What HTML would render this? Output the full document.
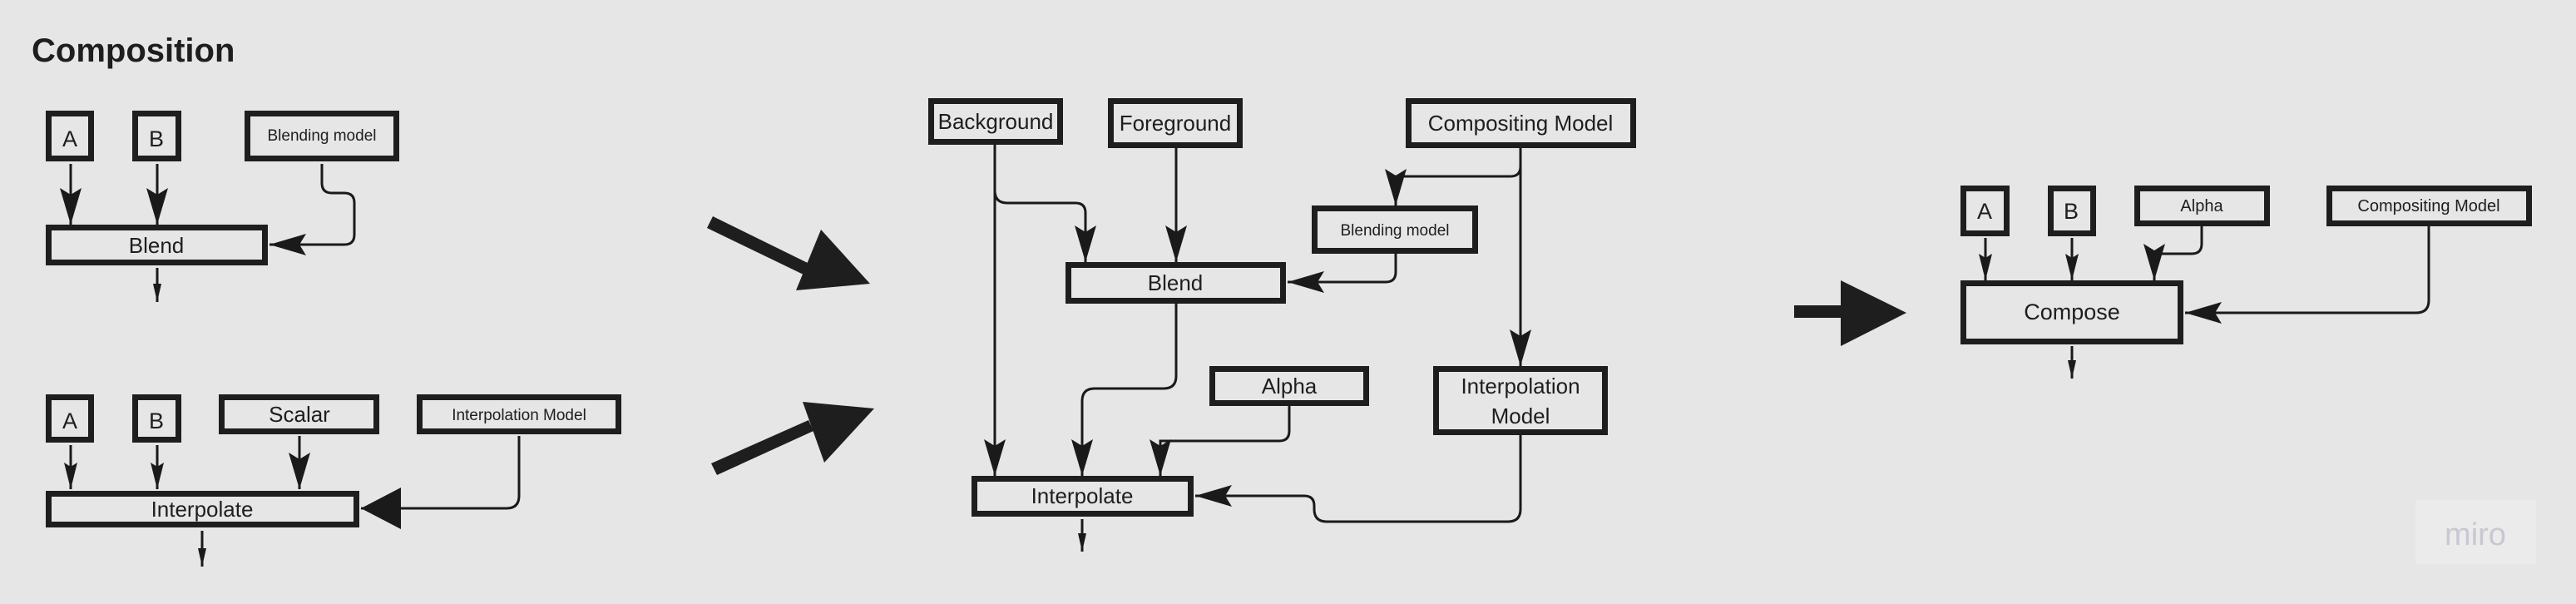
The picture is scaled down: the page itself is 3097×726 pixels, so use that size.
<!DOCTYPE html>
<html><head><meta charset="utf-8"><style>
html,body{margin:0;padding:0;background:#e6e6e6;}
svg{display:block;}
text{font-family:"Liberation Sans",sans-serif;fill:#1e1e1e;}
</style></head><body>
<svg width="3097" height="726" viewBox="0 0 3097 726" xmlns="http://www.w3.org/2000/svg">
<defs>
<marker id="m" markerUnits="userSpaceOnUse" markerWidth="46" markerHeight="26" refX="44" refY="13" orient="auto"><path d="M0 0 L44 13 L0 26 L8 13 Z" fill="#1a1a1a"/></marker>
<marker id="t" markerUnits="userSpaceOnUse" markerWidth="34" markerHeight="16" refX="32" refY="8" orient="auto"><path d="M0 0 L32 8 L0 16 L5 8 Z" fill="#1a1a1a"/></marker>
<marker id="s" markerUnits="userSpaceOnUse" markerWidth="24" markerHeight="12" refX="22" refY="6" orient="auto"><path d="M0 1 L22 6 L0 11 Z" fill="#1a1a1a"/></marker>
<marker id="L" markerUnits="userSpaceOnUse" markerWidth="50" markerHeight="50" refX="48" refY="25" orient="auto"><path d="M0 0 L48 25 L0 50 Z" fill="#1a1a1a"/></marker>
</defs>
<rect width="3097" height="726" fill="#e6e6e6"/>
<text x="38" y="74" font-size="40" font-weight="bold">Composition</text>

<g fill="none" stroke="#1e1e1e" stroke-width="7">
<rect x="58.5" y="136.5" width="51" height="54"/>
<rect x="162.5" y="136.5" width="52" height="54"/>
<rect x="297.5" y="136.5" width="179" height="54"/>
<rect x="58.5" y="273.5" width="260" height="42"/>
<rect x="58.5" y="477.5" width="51" height="51"/>
<rect x="162.5" y="477.5" width="52" height="51"/>
<rect x="266.5" y="477.5" width="186" height="41"/>
<rect x="504.5" y="477.5" width="239" height="41"/>
<rect x="58.5" y="593.5" width="370" height="37"/>
<rect x="1119.5" y="121.5" width="155" height="49"/>
<rect x="1335.5" y="121.5" width="155" height="53"/>
<rect x="1693.5" y="121.5" width="270" height="53"/>
<rect x="1580.5" y="250.5" width="193" height="51"/>
<rect x="1284.5" y="318.5" width="258" height="43"/>
<rect x="1457.5" y="443.5" width="185" height="41"/>
<rect x="1726.5" y="443.5" width="203" height="76"/>
<rect x="1171.5" y="575.5" width="260" height="42"/>
<rect x="2360.5" y="226.5" width="52" height="54"/>
<rect x="2465.5" y="226.5" width="51" height="54"/>
<rect x="2569.5" y="226.5" width="156" height="42"/>
<rect x="2800.5" y="226.5" width="240" height="42"/>
<rect x="2360.5" y="340.5" width="261" height="70"/>
</g>

<g fill="none" stroke="#1a1a1a" stroke-width="3">
<path d="M85 197 V270" marker-end="url(#m)"/>
<path d="M189 197 V270" marker-end="url(#m)"/>
<path d="M387 197 V220 Q387 232 399 232 H414 Q426 232 426 244 V282 Q426 294 414 294 H324" marker-end="url(#m)"/>
<path d="M189 322 V363" marker-end="url(#s)"/>
<path d="M85 535 V588" marker-end="url(#t)"/>
<path d="M189 535 V588" marker-end="url(#t)"/>
<path d="M360 524 V588" marker-end="url(#m)"/>
<path d="M624 524 V596 Q624 611 609 611 H434" marker-end="url(#L)"/>
<path d="M243 638 V681" marker-end="url(#s)"/>

<path d="M1196 174 V572" marker-end="url(#m)"/>
<path d="M1196 200 V229 Q1196 244 1211 244 H1293 Q1305 244 1305 256 V315" marker-end="url(#m)"/>
<path d="M1414 178 V315" marker-end="url(#m)"/>
<path d="M1828 178 V440" marker-end="url(#m)"/>
<path d="M1828 190 V200 Q1828 212 1816 212 H1678 V247" marker-end="url(#m)"/>
<path d="M1678 305 V327 Q1678 339 1666 339 H1548" marker-end="url(#m)"/>
<path d="M1414 365 V452 Q1414 467 1399 467 H1316 Q1301 467 1301 482 V572" marker-end="url(#m)"/>
<path d="M1550 488 V518 Q1550 530 1538 530 H1395 V572" marker-end="url(#m)"/>
<path d="M1828 523 V612 Q1828 627 1813 627 H1595 Q1580 627 1580 612 V608 Q1580 596 1568 596 H1437" marker-end="url(#m)"/>
<path d="M1301 624 V663" marker-end="url(#s)"/>

<path d="M2387 286 V337" marker-end="url(#t)"/>
<path d="M2491 286 V337" marker-end="url(#t)"/>
<path d="M2647 272 V293 Q2647 305 2635 305 H2590 V337" marker-end="url(#m)"/>
<path d="M2920 272 V361 Q2920 376 2905 376 H2627" marker-end="url(#m)"/>
<path d="M2491 416 V455" marker-end="url(#s)"/>
</g>

<g fill="#1e1e1e">
<path d="M857 260 L975 318 L968 331 L850 274 Z"/>
<path d="M987 276 L1046 341 L957 349 Z"/>
<path d="M855 557 L972 505 L978 518 L862 571 Z"/>
<path d="M965 483 L1051 491 L991 556 Z"/>
<rect x="2157" y="367" width="58" height="15"/>
<path d="M2213 337 L2292 376 L2213 416 Z"/>
</g>

<g text-anchor="middle">
<text x="84" y="176" font-size="27">A</text>
<text x="188" y="176" font-size="27">B</text>
<text x="387" y="169" font-size="19">Blending model</text>
<text x="188" y="304" font-size="26">Blend</text>
<text x="84" y="515" font-size="27">A</text>
<text x="188" y="515" font-size="27">B</text>
<text x="360" y="507" font-size="26">Scalar</text>
<text x="624" y="505" font-size="19">Interpolation Model</text>
<text x="243" y="621" font-size="26">Interpolate</text>

<text x="1197" y="155" font-size="26">Background</text>
<text x="1413" y="157" font-size="26">Foreground</text>
<text x="1828" y="157" font-size="26">Compositing Model</text>
<text x="1677" y="283" font-size="19">Blending model</text>
<text x="1413" y="349" font-size="26">Blend</text>
<text x="1550" y="473" font-size="26">Alpha</text>
<text x="1828" y="473" font-size="26">Interpolation</text>
<text x="1828" y="509" font-size="26">Model</text>
<text x="1301" y="605" font-size="26">Interpolate</text>

<text x="2386" y="263" font-size="27">A</text>
<text x="2490" y="263" font-size="27">B</text>
<text x="2647" y="254" font-size="20">Alpha</text>
<text x="2920" y="254" font-size="20">Compositing Model</text>
<text x="2491" y="384" font-size="27">Compose</text>
</g>

<rect x="2904" y="601" width="145" height="77" fill="#ebebeb"/>
<text x="2976" y="655" font-size="38" style="fill:#c8c8d2" text-anchor="middle">miro</text>
</svg>
</body></html>
